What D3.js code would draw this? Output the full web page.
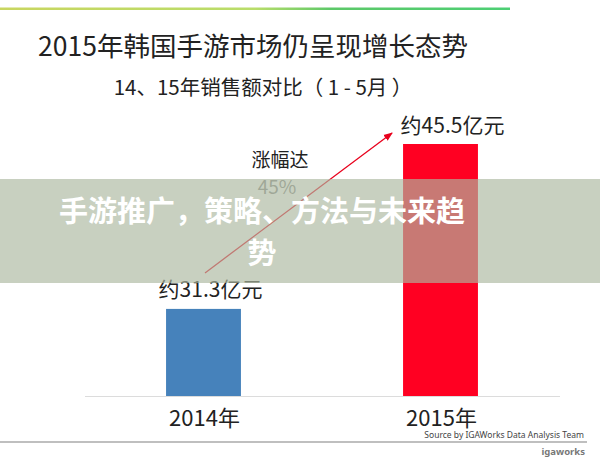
<!DOCTYPE html>
<html>
<head>
<meta charset="utf-8">
<script src="https://cdn.jsdelivr.net/npm/d3@7"></script>
<style>
  body { margin: 0; background: #fff; }
  svg { display: block; font-family: "Noto Sans CJK SC", "Noto Sans", sans-serif; }
</style>
</head>
<body>
<div id="chart"></div>
<script>
// chart data
const years = ["2014年", "2015年"];
const sales = [31.3, 45.5];
const salesLabels = ["约31.3亿元", "约45.5亿元"];
const barColors = ["#4682bb", "#ff0022"];
const growthLabel = ["涨幅达", "45%"];
const titleText = "2015年韩国手游市场仍呈现增长态势";
const subtitleText = "14、15年销售额对比（ 1 - 5月 ）";
const bannerLines = ["手游推广，策略、方法与未来趋", "势"];
const sourceText = "Source by IGAWorks Data Analysis Team";

const width = 600, height = 463;
const svg = d3.select("#chart").append("svg").attr("width", width).attr("height", height);

// top gradient rule
const grad = svg.append("defs").append("linearGradient").attr("id", "topRule");
grad.append("stop").attr("offset", "0%").attr("stop-color", "#c9d660");
grad.append("stop").attr("offset", "50%").attr("stop-color", "#b9dd6a");
grad.append("stop").attr("offset", "65%").attr("stop-color", "#5cc868");
grad.append("stop").attr("offset", "100%").attr("stop-color", "#4ccf74");
svg.append("rect").attr("x", 0).attr("y", 7.5).attr("width", 510).attr("height", 2.5)
    .attr("fill", "url(#topRule)");

svg.append("text").attr("x", 253).attr("y", 56).attr("text-anchor", "middle")
    .attr("font-size", 26.5).attr("fill", "#222").text(titleText);
svg.append("text").attr("x", 263).attr("y", 95).attr("text-anchor", "middle")
    .attr("font-size", 20.5).attr("fill", "#222").text(subtitleText);

// scales (value axis does not start at zero in the original)
const x = d3.scaleBand().domain(years).range([85, 559]).paddingInner(0.684).paddingOuter(0.342);
const y = d3.scaleLinear().domain([23.8, 45.5]).range([396, 144]);

svg.selectAll("rect.bar").data(sales).enter().append("rect")
    .attr("class", "bar")
    .attr("x", (d, i) => x(years[i]))
    .attr("y", d => y(d))
    .attr("width", x.bandwidth())
    .attr("height", d => y.range()[0] - y(d))
    .attr("fill", (d, i) => barColors[i]);

// baseline
svg.append("line").attr("x1", x.range()[0]).attr("x2", x.range()[1] + 1)
    .attr("y1", y.range()[0] + 0.5).attr("y2", y.range()[0] + 0.5)
    .attr("stroke", "#dcdcdc").attr("stroke-width", 1);

// category labels
svg.selectAll("text.cat").data(years).enter().append("text")
    .attr("class", "cat")
    .attr("x", d => x(d) + x.bandwidth() / 2 + 1)
    .attr("y", 426).attr("text-anchor", "middle")
    .attr("font-size", 22).attr("fill", "#222").text(d => d);

// value labels
svg.selectAll("text.val").data(sales).enter().append("text")
    .attr("class", "val")
    .attr("x", (d, i) => x(years[i]) + x.bandwidth() / 2 + (i === 0 ? 7 : 12))
    .attr("y", (d, i) => y(d) - (i === 0 ? 12 : 11))
    .attr("text-anchor", "middle")
    .attr("font-size", 21).attr("fill", "#222").text((d, i) => salesLabels[i]);

// growth arrow
svg.append("defs").append("marker").attr("id", "arrowHead")
    .attr("viewBox", "0 0 10 10").attr("refX", 9).attr("refY", 5)
    .attr("markerWidth", 7).attr("markerHeight", 7).attr("orient", "auto")
    .append("path").attr("d", "M0,1 L10,5 L0,9 z").attr("fill", "#e8001c");
const x0 = x(years[0]) + x.bandwidth() / 2 + 1.5, y0 = y(sales[0]) - 36;
const x1 = x(years[1]) - 11, y1 = y(sales[1]) - 11;
svg.append("line").attr("x1", x0).attr("y1", y0).attr("x2", x1).attr("y2", y1)
    .attr("stroke", "#e8001c").attr("stroke-width", 1.3).attr("marker-end", "url(#arrowHead)");

svg.append("text").attr("x", 280).attr("y", 167).attr("text-anchor", "middle")
    .attr("font-size", 19).attr("fill", "#222").text(growthLabel[0]);
svg.append("text").attr("x", 277).attr("y", 194).attr("text-anchor", "middle")
    .attr("font-size", 19).attr("fill", "#888").text(growthLabel[1]);

// bottom rule and source
svg.append("line").attr("x1", 0).attr("x2", 587).attr("y1", 442).attr("y2", 442)
    .attr("stroke", "#aaa").attr("stroke-width", 1.5);
svg.append("text").attr("x", 584).attr("y", 438).attr("text-anchor", "end")
    .attr("font-family", "Noto Sans, sans-serif").attr("font-size", 8.5).attr("fill", "#444")
    .text(sourceText);
svg.append("text").attr("x", 585).attr("y", 455).attr("text-anchor", "end")
    .attr("font-family", "Noto Sans, sans-serif").attr("font-weight", "bold")
    .attr("font-size", 9.5).attr("fill", "#777").text("igaworks");

// semi-transparent banner on top
svg.append("rect").attr("x", 0).attr("y", 179).attr("width", width).attr("height", 104)
    .attr("fill", "rgb(171,183,159)").attr("fill-opacity", 0.66);
svg.selectAll("text.banner").data(bannerLines).enter().append("text")
    .attr("class", "banner")
    .attr("x", 262).attr("y", (d, i) => 222 + i * 42)
    .attr("text-anchor", "middle").attr("font-size", 29).attr("font-weight", "bold")
    .attr("fill", "#fff").text(d => d);
</script>
</body>
</html>
